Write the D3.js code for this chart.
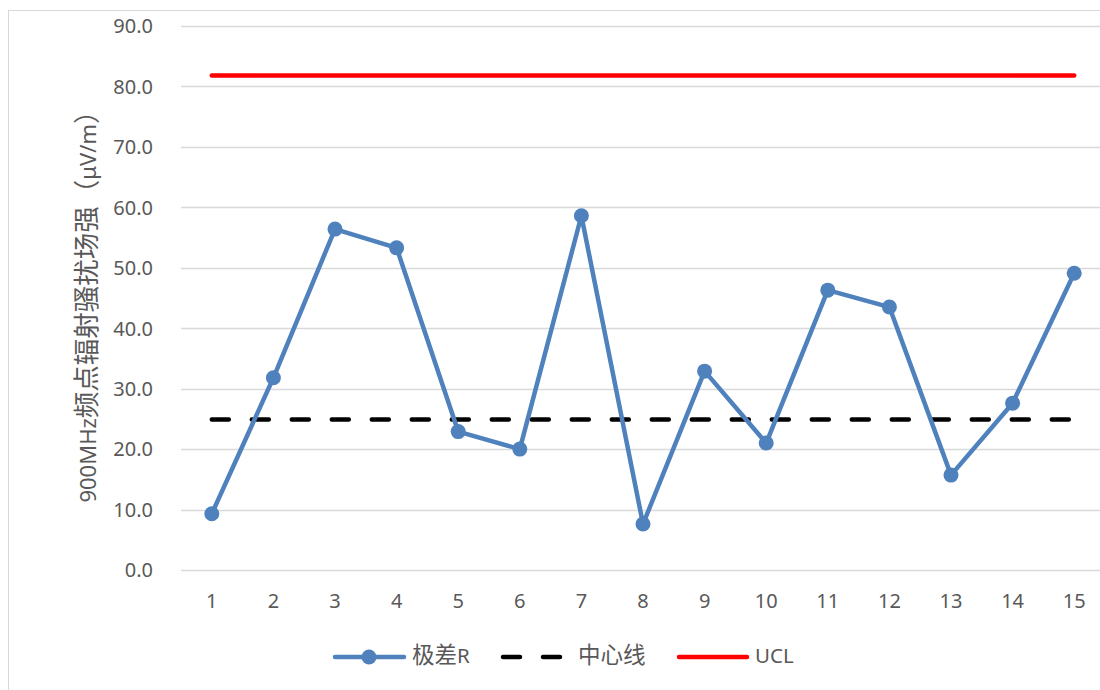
<!DOCTYPE html>
<html><head><meta charset="utf-8">
<script src="https://cdn.jsdelivr.net/npm/d3@7"></script>
<style>body{margin:0;background:#fff;} svg{display:block;}</style>
</head><body>
<svg id="c" width="1100" height="690"></svg>
<script>
const categories = ["1","2","3","4","5","6","7","8","9","10","11","12","13","14","15"];
const rangeR = [9.3,31.8,56.4,53.3,22.9,20.0,58.6,7.6,32.9,21.0,46.3,43.5,15.7,27.6,49.1];
const centerLine = [24.9,24.9,24.9,24.9,24.9,24.9,24.9,24.9,24.9,24.9,24.9,24.9,24.9,24.9,24.9];
const ucl = [81.8,81.8,81.8,81.8,81.8,81.8,81.8,81.8,81.8,81.8,81.8,81.8,81.8,81.8,81.8];
const yTicks = [0,10,20,30,40,50,60,70,80,90];
const seriesNames = ["极差R","中心线","UCL"];
const yTitle = "900MHz频点辐射骚扰场强（μV/m）";

const font = "'Noto Sans','Noto Sans CJK SC',sans-serif";
const cjkRe = /[\u3000-\u9fff\uff00-\uffef]/;
// split text into runs: CJK runs get a larger size (matches wider CJK glyphs of the original)
function addRuns(sel, str, latinSize, cjkSize){
  const runs=[]; let cur=null;
  for(const ch of str){ const c=cjkRe.test(ch); if(!cur||cur.c!==c){cur={c,t:""};runs.push(cur);} cur.t+=ch; }
  runs.forEach(r=>sel.append("tspan").attr("font-size",r.c?cjkSize:latinSize).text(r.t));
}

const svg = d3.select("#c");
svg.append("rect").attr("x",8.5).attr("y",10.5).attr("width",1100).attr("height",700)
  .attr("fill","#fff").attr("stroke","#d9d9d9").attr("stroke-width",1);

const L=181, R=1105, T=26, B=570;
const x = d3.scaleBand().domain(categories).range([L,R]);
const y = d3.scaleLinear().domain([0,90]).range([B,T]);
const cx = d => x(d)+x.bandwidth()/2;

// grid
svg.append("g").selectAll("line").data(yTicks).join("line")
  .attr("x1",L).attr("x2",R).attr("y1",d=>Math.round(y(d))+0.5).attr("y2",d=>Math.round(y(d))+0.5)
  .attr("stroke","#d9d9d9").attr("stroke-width",1.5);

// y axis labels
const ya = svg.append("g").attr("transform",`translate(${L-28},0)`)
  .call(d3.axisLeft(y).tickValues(yTicks).tickFormat(d3.format(".1f")).tickSize(0));
ya.select(".domain").remove();
ya.selectAll("text").attr("font-family",font).attr("font-size",20).attr("fill","#595959").attr("dy","0.34em").attr("x",0);

// x axis labels
const xa = svg.append("g").attr("transform",`translate(0,${B+21})`)
  .call(d3.axisBottom(x).tickSize(0));
xa.select(".domain").remove();
xa.selectAll("text").attr("font-family",font).attr("font-size",20).attr("fill","#595959").attr("dy","0.71em");

// y title
const yt = svg.append("text").attr("transform","translate(96,300) rotate(-90)")
  .attr("text-anchor","middle").attr("font-family",font).attr("fill","#595959");
addRuns(yt, yTitle, 22, 26.5);

const line = d3.line().x((d,i)=>cx(categories[i])).y(d=>y(d));
svg.append("path").datum(ucl).attr("d",line).attr("fill","none").attr("stroke","#ff0000").attr("stroke-width",4.5).attr("stroke-linecap","round");
svg.append("path").datum(centerLine).attr("d",line).attr("fill","none").attr("stroke","#000").attr("stroke-width",4.5).attr("stroke-linecap","round").attr("stroke-dasharray","17,23");
svg.append("path").datum(rangeR).attr("d",line).attr("fill","none").attr("stroke","#4f81bd").attr("stroke-width",4.5).attr("stroke-linejoin","round");
svg.append("g").selectAll("circle").data(rangeR).join("circle")
  .attr("cx",(d,i)=>cx(categories[i])).attr("cy",d=>y(d)).attr("r",7.5).attr("fill","#4f81bd");

// legend
const ly=657;
const lg = svg.append("g");
function legText(xp, s){
  const t = lg.append("text").attr("x",xp).attr("y",ly).attr("dy","0.36em").attr("font-family",font).attr("fill","#595959");
  addRuns(t, s, 20.5, 22.5);
}
lg.append("line").attr("x1",335).attr("x2",404).attr("y1",ly).attr("y2",ly).attr("stroke","#4f81bd").attr("stroke-width",4.5).attr("stroke-linecap","round");
lg.append("circle").attr("cx",369).attr("cy",ly).attr("r",7.5).attr("fill","#4f81bd");
legText(412, seriesNames[0]);
lg.append("line").attr("x1",503).attr("x2",562).attr("y1",ly).attr("y2",ly).attr("stroke","#000").attr("stroke-width",4.5).attr("stroke-linecap","round").attr("stroke-dasharray","17,23");
legText(578, seriesNames[1]);
lg.append("line").attr("x1",679).attr("x2",747).attr("y1",ly).attr("y2",ly).attr("stroke","#ff0000").attr("stroke-width",4.5).attr("stroke-linecap","round");
legText(755, seriesNames[2]);
</script>
</body></html>
